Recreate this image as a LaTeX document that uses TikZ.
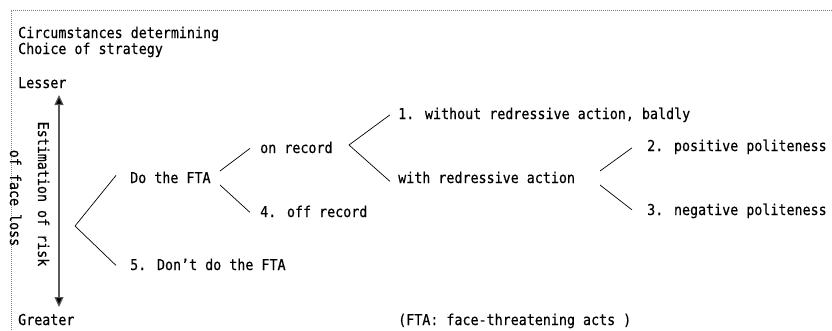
\documentclass[tikz,border=0pt]{standalone}
\usepackage{fontspec}
\setmainfont[FakeStretch=0.89,FakeBold=0.4]{DejaVu Sans Mono}
\usetikzlibrary{arrows.meta}
\begin{document}
\begin{tikzpicture}[x=1pt,y=-1pt,
  txt/.style={anchor=base west,inner sep=0pt,font=\fontsize{15}{16}\selectfont},
  vtxt/.style={anchor=base,inner sep=0pt,rotate=-90,font=\fontsize{15}{16}\selectfont},
  branch/.style={draw=black,line width=0.7pt},
  border/.style={draw=gray,line width=0.8pt,dash pattern=on 1pt off 1pt}]
\useasboundingbox (0,0) rectangle (832,330);
\draw[border] (832,10) -- (11,10) -- (11,330);
% texts
\node[txt] (c1) at (18,38) {Circumstances determining};
\node[txt] (c2) at (18,54) {Choice of strategy};
\node[txt] (lesser) at (18,88) {Lesser};
\node[txt] (greater) at (18,325) {Greater};
\node[vtxt] (est1) at (38,194) {Estimation of risk};
\node[vtxt] (est2) at (10,198) {of face loss};
\node[txt] (do) at (130,183) {Do the FTA};
\node[txt] (dont) at (130,270) {5. Don't do the FTA};
\node[txt] (on) at (260,153) {on record};
\node[txt] (off) at (260,217) {4. off record};
\node[txt] (bald) at (398,119) {1. without redressive action, baldly};
\node[txt] (with) at (398,183) {with redressive action};
\node[txt] (pos) at (647,151) {2. positive politeness};
\node[txt] (neg) at (647,215) {3. negative politeness};
\node[txt] (note) at (398,325) {(FTA: face-threatening acts )};
% arrow
\coordinate (atop) at (59,95);
\coordinate (abot) at (59,307);
\draw[draw=black!65,line width=1.2pt,{Triangle[width=9pt,length=10pt,fill=black]}-{Triangle[width=9pt,length=10pt,fill=black]}] (atop) -- (abot);
% tree connectors
\coordinate (r0) at (75,226);
\draw[branch] ([xshift=-14pt,yshift=2pt]do.west) -- (r0) -- ([xshift=-14pt,yshift=-1pt]dont.west);
\coordinate (r1) at (220,171);
\coordinate (r1b) at (220,185);
\draw[branch] (r1) -- ([xshift=-10pt,yshift=-1pt]on.west);
\draw[branch] (r1b) -- ([xshift=-10pt,yshift=-1pt]off.west);
\coordinate (r2) at (349,145);
\draw[branch] ([xshift=-8pt,yshift=0pt]bald.west) -- (r2) -- ([xshift=-8pt,yshift=-4pt]with.west);
\coordinate (r3) at (600,171);
\coordinate (r3b) at (600,185);
\draw[branch] (r3) -- ([xshift=-15pt,yshift=-1pt]pos.west);
\draw[branch] (r3b) -- ([xshift=-15pt,yshift=1pt]neg.west);
\end{tikzpicture}
\end{document}
